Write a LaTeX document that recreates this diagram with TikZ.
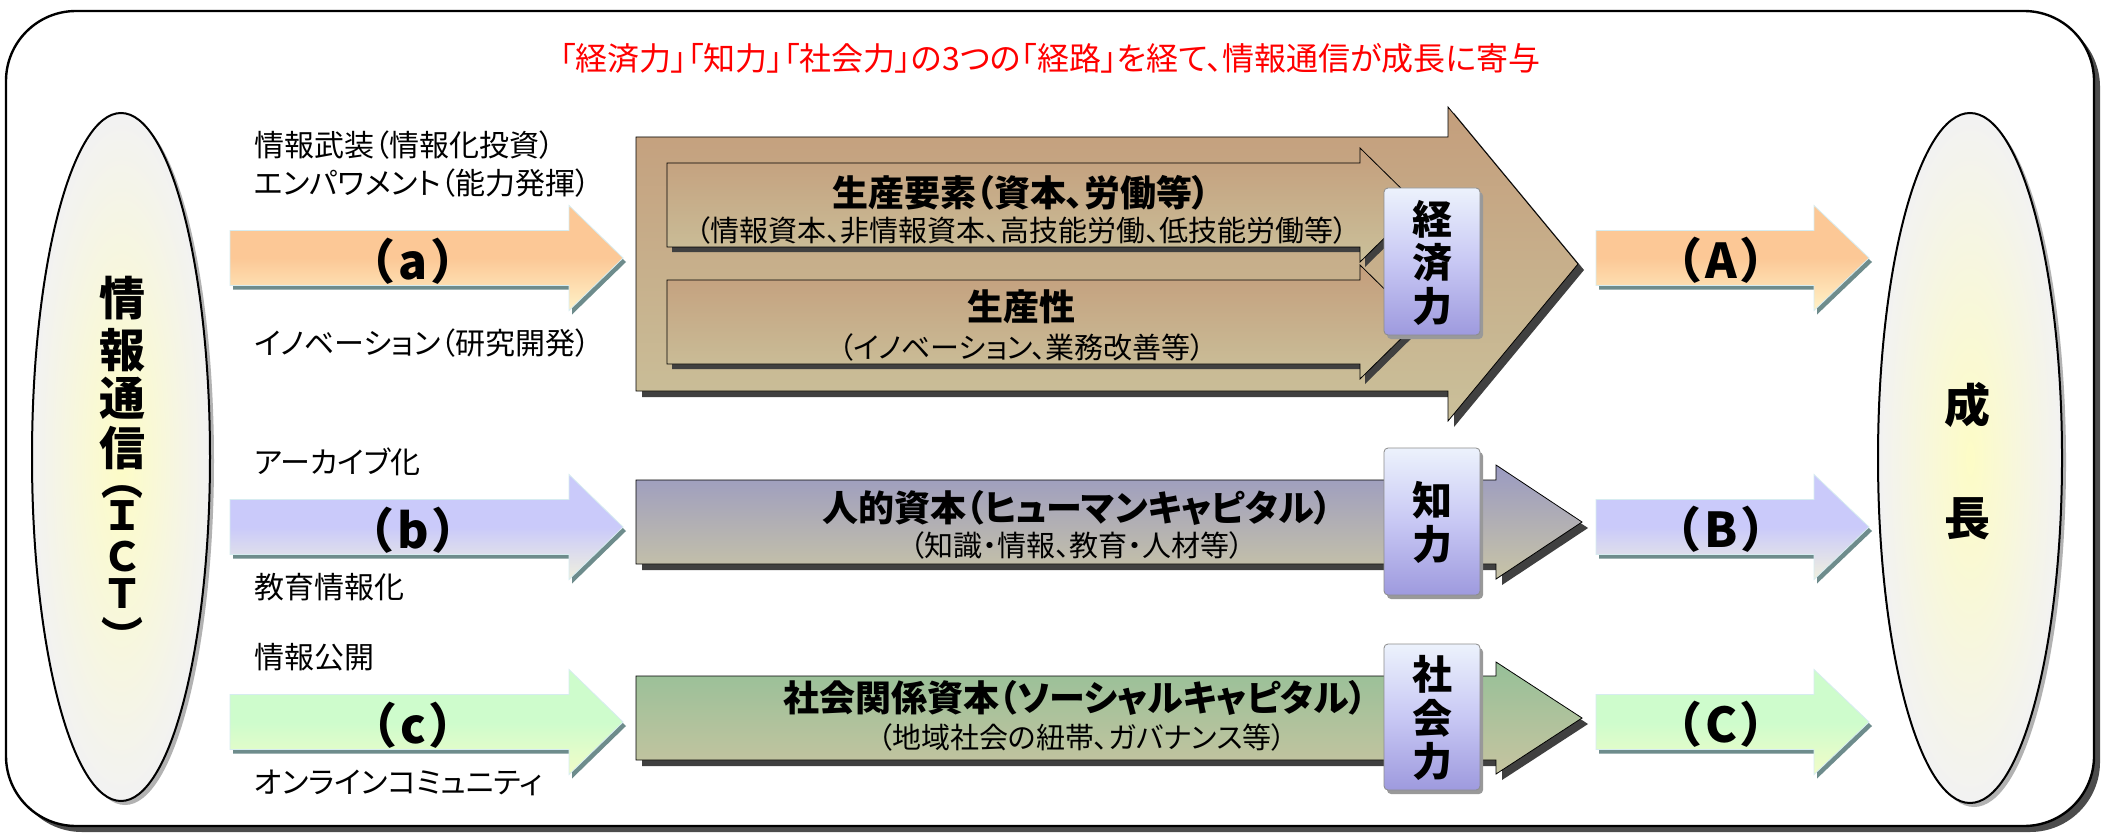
\documentclass[tikz,border=0pt]{standalone}
\usepackage{fontspec}
\setmainfont{Noto Sans CJK JP}[RawFeature=+palt]
\newfontfamily\fullfont{Noto Sans CJK JP}

\definecolor{orngtop}{RGB}{252,200,150}
\definecolor{orngbot}{RGB}{255,242,200}
\definecolor{lavtop}{RGB}{202,202,250}
\definecolor{lavbot}{RGB}{240,240,222}
\definecolor{grntop}{RGB}{206,252,204}
\definecolor{grnbot}{RGB}{242,252,200}
\definecolor{arrshade}{RGB}{110,140,140}
\definecolor{arrline}{RGB}{214,236,240}
\definecolor{browntop}{RGB}{196,158,124}
\definecolor{brownbot}{RGB}{202,192,154}
\definecolor{bluetop}{RGB}{154,154,194}
\definecolor{bluebot}{RGB}{200,196,166}
\definecolor{greentop}{RGB}{150,192,152}
\definecolor{greenbot}{RGB}{198,196,160}
\definecolor{boxtop}{RGB}{236,242,252}
\definecolor{boxmid}{RGB}{200,200,244}
\definecolor{boxbot}{RGB}{158,154,222}
\definecolor{ovalin}{RGB}{253,252,198}
\definecolor{ovalout}{RGB}{242,242,242}

% block arrow: x start, head start, tip, y centre, half body, half head
\newcommand{\arrowpath}[6]{(#1,#4-#5) -- (#2,#4-#5) -- (#2,#4-#6) -- (#3,#4) -- (#2,#4+#6) -- (#2,#4+#5) -- (#1,#4+#5) -- cycle}

\begin{document}
\begin{tikzpicture}[x=0.5pt, y=-0.5pt,
	headline/.style={text=red, font=\fontsize{16}{19}\selectfont},
	sidetext/.style={anchor=west, inner sep=0, font=\fontsize{15}{18}\selectfont},
	pathtag/.style={inner sep=0, font=\fontsize{24}{28}\selectfont\bfseries},
	captext/.style={inner sep=0, font=\fontsize{18}{22}\selectfont\bfseries},
	subtext/.style={inner sep=0, font=\fontsize{14.5}{18}\selectfont},
	vtext/.style={inner sep=0, align=center, font=\fontsize{20}{21.75}\selectfont\bfseries},
	bigchar/.style={inner sep=0, font=\fullfont\fontsize{23}{26}\selectfont\bfseries},
	smallchar/.style={inner sep=0, font=\fullfont\fontsize{20}{24}\selectfont\bfseries},
	vparen/.style={inner sep=0, rotate=-90, font=\fontsize{21}{24}\selectfont\bfseries}]
	\useasboundingbox (0,0) rectangle (2102,834);

	% frame
	\fill[black!70, rounded corners=35pt] (12,17) rectangle (2100,832);
	\draw[line width=1.2pt, fill=white, rounded corners=35pt] (6,11) rectangle (2094,826);

	% title
	\node[headline] (title) at (1050,58) {「経済力」「知力」「社会力」の3つの「経路」を経て、情報通信が成長に寄与};

	% ovals
	\fill[black!30] (125,461) ellipse [x radius=89, y radius=344];
	\draw[line width=1pt, inner color=ovalin, outer color=ovalout] (121,457) ellipse [x radius=89, y radius=344];
	\fill[black!30] (1974,462) ellipse [x radius=92, y radius=345];
	\draw[line width=1pt, inner color=ovalin, outer color=ovalout] (1970,458) ellipse [x radius=92, y radius=345];

	\foreach \ch/\y in {情/298, 報/350, 通/398, 信/448}
		\node[bigchar] (ict\y) at (122,\y) {\ch};
	\foreach \ch/\y in {Ｉ/516, Ｃ/557, Ｔ/594}
		\node[smallchar] (ict\y) at (122,\y) {\ch};
	\node[vparen] (ictopen) at (122,488) {（};
	\node[vparen] (ictclose) at (122,628) {）};
	\node[bigchar] (grow1) at (1967,405) {成};
	\node[bigchar] (grow2) at (1967,519) {長};

	% input arrows
	\foreach \y/\col/\t in {258/orng/a, 527/lav/b, 722/grn/c} {
		\fill[arrshade, shift={(3,4)}] \arrowpath{230}{569}{623}{\y}{27.5}{52.5};
		\draw[arrline, top color=\col top, bottom color=\col bot, middle color=\col top] \arrowpath{230}{569}{623}{\y}{27.5}{52.5};
		\node[pathtag] (in\t) at (413,\y+3) {（\hspace{0.1em}\t\hspace{0.1em}）};
	}

	% output arrows
	\foreach \y/\col/\t in {258/orng/A, 527/lav/B, 722/grn/C} {
		\fill[arrshade, shift={(3,4)}] \arrowpath{1596}{1814}{1869}{\y}{27.5}{52.5};
		\draw[arrline, top color=\col top, bottom color=\col bot, middle color=\col top] \arrowpath{1596}{1814}{1869}{\y}{27.5}{52.5};
		\node[pathtag] (out\t) at (1721,\y+2) {（\hspace{0.1em}\t\hspace{0.1em}）};
	}

	% labels on the inputs
	\node[sidetext] (armed) at (254,145) {情報武装（情報化投資）};
	\node[sidetext] (empower) at (254,183) {エンパワメント（能力発揮）};
	\node[sidetext] (innov) at (254,343) {イノベーション（研究開発）};
	\node[sidetext] (archive) at (254,462) {アーカイブ化};
	\node[sidetext] (educ) at (254,587) {教育情報化};
	\node[sidetext] (openinfo) at (254,657) {情報公開};
	\node[sidetext] (online) at (254,783) {オンラインコミュニティ};

	% economic arrow
	\fill[black!75, shift={(6,6)}] \arrowpath{636}{1448}{1578}{264}{127}{157};
	\draw[top color=browntop, bottom color=brownbot] \arrowpath{636}{1448}{1578}{264}{127}{157};
	\foreach \y in {205, 322} {
		\fill[black!75, shift={(5,5)}] \arrowpath{667}{1360}{1418}{\y}{42}{57};
		\draw[top color=browntop, bottom color=brownbot] \arrowpath{667}{1360}{1418}{\y}{42}{57};
	}
	\node[captext] (factors) at (1021,193) {生産要素（資本、労働等）};
	\node[subtext] (factorsub) at (1022,230) {（情報資本、非情報資本、高技能労働、低技能労働等）};
	\node[captext] (product) at (1021,307) {生産性};
	\node[subtext] (productsub) at (1022,347) {（イノベーション、業務改善等）};

	% human capital arrow
	\fill[black!75, shift={(6,6)}] \arrowpath{636}{1496}{1582}{522}{42}{57};
	\draw[top color=bluetop, bottom color=bluebot] \arrowpath{636}{1496}{1582}{522}{42}{57};
	\node[captext] (human) at (1077,508) {人的資本（ヒューマンキャピタル）};
	\node[subtext] (humansub) at (1077,545) {（知識・情報、教育・人材等）};

	% social capital arrow
	\fill[black!75, shift={(6,6)}] \arrowpath{636}{1496}{1582}{718}{42}{56};
	\draw[top color=greentop, bottom color=greenbot] \arrowpath{636}{1496}{1582}{718}{42}{56};
	\node[captext] (social) at (1075,698) {社会関係資本（ソーシャルキャピタル）};
	\node[subtext] (socialsub) at (1082,737) {（地域社会の紐帯、ガバナンス等）};

	% power boxes
	\foreach \ya/\yb/\nm/\txt in {188/335/keizai/経\\済\\力, 448/595/chi/知\\力, 644/790/shakai/社\\会\\力} {
		\fill[black!40, shift={(3,4)}, rounded corners=2pt] (1384,\ya) rectangle (1480,\yb);
		\draw[black!45, rounded corners=2pt, top color=boxtop, bottom color=boxbot, middle color=boxmid] (1384,\ya) rectangle (1480,\yb);
		\node[vtext] (\nm) at (1432,\ya/2+\yb/2+1) {\txt};
	}
\end{tikzpicture}
\end{document}
